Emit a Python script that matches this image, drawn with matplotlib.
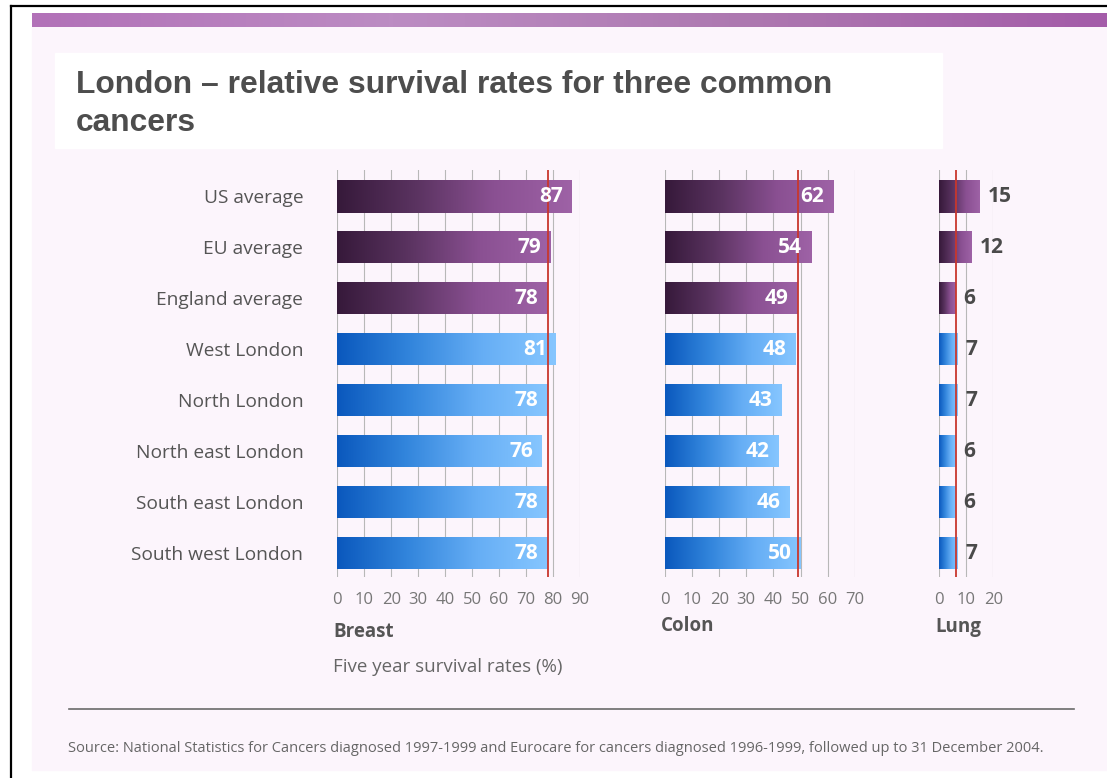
import numpy as np
import matplotlib.pyplot as plt
from matplotlib.colors import LinearSegmentedColormap
from matplotlib.patches import Rectangle
from matplotlib.lines import Line2D

plt.rcParams['font.family'] = ['Open Sans', 'DejaVu Sans']

W, H = 1107, 778

# data
regions = ["US average", "EU average", "England average", "West London",
           "North London", "North east London", "South east London",
           "South west London"]
breast = [87, 79, 78, 81, 78, 76, 78, 78]
colon = [62, 54, 49, 48, 43, 42, 46, 50]
lung = [15, 12, 6, 7, 7, 6, 6, 7]
is_average = [True, True, True, False, False, False, False, False]
breast_ticks = list(range(0, 91, 10))
colon_ticks = list(range(0, 71, 10))
lung_ticks = list(range(0, 21, 10))
england_idx = regions.index("England average")


def fx(x):
    return x / W


def fy(y):
    return 1 - y / H


fig = plt.figure(figsize=(W / 100, H / 100), dpi=100)
fig.patch.set_facecolor('white')

# page background and purple band
fig.patches.append(Rectangle((fx(32), fy(770)), 1 - fx(32), (770 - 27) / H,
                             transform=fig.transFigure, color='#fcf5fc', zorder=-2))
band = fig.add_axes([fx(32), fy(27.5), 1 - fx(32), 14.5 / H])
band_cmap = LinearSegmentedColormap.from_list(
    'band', ['#b271b8', '#bc8cc3', '#ad78b0', '#a45ca9'])
band.imshow(np.linspace(0, 1, 256)[None, :], cmap=band_cmap, aspect='auto')
band.axis('off')

# white title box
fig.patches.append(Rectangle((fx(55), fy(148)), (942 - 55) / W, (148 - 53) / H,
                             transform=fig.transFigure, color='white', zorder=-1))

# border on left and top
fig.lines.append(Line2D([fx(10.5), fx(10.5)], [fy(6), 0], transform=fig.transFigure,
                        color='black', lw=1.6))
fig.lines.append(Line2D([fx(10.5), 1], [fy(6), fy(6)], transform=fig.transFigure,
                        color='black', lw=1.6))

fig.text(fx(76), fy(93), "London \u2013 relative survival rates for three common",
         family='Liberation Sans', fontweight='bold', fontsize=22.9,
         color='#4d4d4d', va='baseline')
fig.text(fx(76), fy(131), "cancers", family='Liberation Sans', fontweight='bold',
         fontsize=22.9, color='#4d4d4d', va='baseline')

purple = LinearSegmentedColormap.from_list(
    'purple', ['#36193a', '#5a3360', '#8a5092', '#9e62a6'])
blue = LinearSegmentedColormap.from_list(
    'blue', ['#0a58bd', '#3285dc', '#66aef5', '#86c6ff'])
grad = np.linspace(0, 1, 256)[None, :]

top_px, bot_px = 170, 577
y = np.arange(len(regions))

panels = [
    ("Breast", breast, breast_ticks, 337.3, 242.7, 632),
    ("Colon", colon, colon_ticks, 665.0, 189.7, 626),
    ("Lung", lung, lung_ticks, 939.3, 54.0, 627),
]

for name, vals, ticks, left, width, title_y in panels:
    ax = fig.add_axes([fx(left), fy(bot_px), width / W, (bot_px - top_px) / H])
    ax.set_facecolor('none')
    bars = ax.barh(y, vals, height=0.63, color='none', lw=0, zorder=2)
    for b, avg in zip(bars, is_average):
        x0, y0, w, h = b.get_x(), b.get_y(), b.get_width(), b.get_height()
        im = ax.imshow(grad, cmap=purple if avg else blue, aspect='auto',
                       extent=[x0, x0 + w, y0 + h, y0], zorder=2)
        im.set_clip_path(b)
    ax.axvline(vals[england_idx], color='#c8372d', lw=1.3, zorder=4)

    for yi, v in zip(y, vals):
        if name == "Lung":
            ax.annotate(str(v), (v, yi), xytext=(5.5, 0), textcoords='offset points',
                        ha='left', va='center', fontsize=15, fontweight='bold',
                        color='#4a4a4a', zorder=5)
        else:
            ax.annotate(str(v), (v, yi), xytext=(-6.5, 0), textcoords='offset points',
                        ha='right', va='center', fontsize=15, fontweight='bold',
                        color='white', zorder=5)

    ax.set_xlim(ticks[0], ticks[-1])
    ax.set_ylim(7.47, -0.52)
    ax.set_xticks(ticks)
    ax.grid(axis='x', color='#b8b8b8', lw=0.8, zorder=0)
    ax.set_axisbelow(True)
    for s in ax.spines.values():
        s.set_visible(False)
    ax.tick_params(axis='x', length=0, pad=11, labelsize=12, labelcolor='#777777')
    if name == "Breast":
        ax.set_yticks(y, regions)
        ax.tick_params(axis='y', length=0, pad=24.5, labelsize=13.8,
                       labelcolor='#555555')
    else:
        ax.set_yticks([])

    fig.text(fx(left - 4), fy(title_y), name, fontsize=13.5, fontweight='bold',
             color='#555555', va='center')

fig.text(fx(333), fy(667), "Five year survival rates (%)", fontsize=13.5,
         color='#666666', va='center')

fig.lines.append(Line2D([fx(69), fx(1074)], [fy(709), fy(709)],
                        transform=fig.transFigure, color='#6a6a6a', lw=1.2))
fig.text(fx(68), fy(748),
         "Source: National Statistics for Cancers diagnosed 1997-1999 and Eurocare for "
         "cancers diagnosed 1996-1999, followed up to 31 December 2004.",
         fontsize=10.5, color='#666666', va='center')

fig.savefig('out.png', dpi=100, facecolor=fig.get_facecolor())
